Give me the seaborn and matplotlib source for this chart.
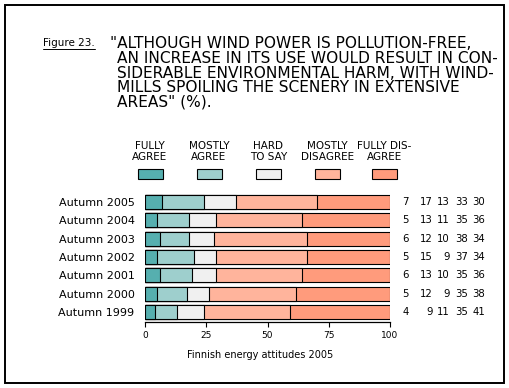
import matplotlib
matplotlib.use("Agg")
import matplotlib.pyplot as plt
import seaborn as sns
import pandas as pd
import numpy as np
from matplotlib.patches import Rectangle
from matplotlib.lines import Line2D
import matplotlib.transforms as mtransforms

# ---- data ----
years = ["Autumn 2005", "Autumn 2004", "Autumn 2003", "Autumn 2002",
         "Autumn 2001", "Autumn 2000", "Autumn 1999"]
fully_agree = [7, 5, 6, 5, 6, 5, 4]
mostly_agree = [17, 13, 12, 15, 13, 12, 9]
hard_to_say = [13, 11, 10, 9, 10, 9, 11]
mostly_disagree = [33, 35, 38, 37, 35, 35, 35]
fully_disagree = [30, 36, 34, 34, 36, 38, 41]
legend_labels = ["FULLY\nAGREE", "MOSTLY\nAGREE", "HARD\nTO SAY", "MOSTLY\nDISAGREE", "FULLY DIS-\nAGREE"]
x_ticks = [0, 25, 50, 75, 100]

colors = ["#56AFAF", "#9ECFCD", "#F0F0F0", "#FFB49C", "#FF9B7C"]

sns.set_style("white")
plt.rcParams["font.family"] = ["DejaVu Sans"]
plt.rcParams["text.color"] = "black"
plt.rcParams["axes.labelcolor"] = "black"
plt.rcParams["xtick.color"] = "black"
plt.rcParams["ytick.color"] = "black"

W, H = 509, 388
fig = plt.figure(figsize=(W / 100, H / 100), dpi=100)

def fx(px):
    return px / W

def fy(py):
    return 1 - py / H

# axes placement
ax_left, ax_right = 145, 390
ax_top, ax_bottom = 193.75, 322
ax = fig.add_axes([fx(ax_left), fy(ax_bottom), fx(ax_right - ax_left), (ax_bottom - ax_top) / H])

series = [fully_agree, mostly_agree, hard_to_say, mostly_disagree, fully_disagree]
raw = np.array(series, dtype=float)          # shape (5, n_years)
shares = raw / raw.sum(axis=0) * 100          # 100 % stacked bars
cums = np.cumsum(shares, axis=0)

# draw cumulative bars from the largest to the smallest so they stack visually
for i in range(len(series) - 1, -1, -1):
    d = pd.DataFrame({"year": years, "value": cums[i]})
    sns.barplot(data=d, x="value", y="year", order=years, orient="h",
                color=colors[i], saturation=1, width=0.76,
                edgecolor="black", linewidth=0.8, ax=ax, errorbar=None)

ax.set_xlim(0, 100)
ax.set_ylim(6.545, -0.45)
ax.set_xticks(x_ticks)
ax.set_xticklabels([str(t) for t in x_ticks], fontsize=6.5)
ax.tick_params(axis="x", length=3.5, width=0.8, pad=3, direction="out", bottom=True, colors="black")
ax.tick_params(axis="y", length=0, pad=7.5, labelsize=8, colors="black")
ax.set_ylabel("")
for side in ["top", "right", "left"]:
    ax.spines[side].set_visible(False)
ax.spines["bottom"].set_linewidth(0.9)
ax.spines["bottom"].set_color("black")
ax.set_xlabel("Finnish energy attitudes 2005", fontsize=7, color="black")
ax.xaxis.set_label_coords((260 - ax_left) / (ax_right - ax_left), -0.215)

# right-hand value columns
trans = mtransforms.blended_transform_factory(ax.transAxes, ax.transData)
col_right_px = [409, 433, 450, 468, 485]
for r, yr in enumerate(years):
    for c, s in enumerate(series):
        ax.text((col_right_px[c] - ax_left) / (ax_right - ax_left), r, str(s[r]),
                transform=trans, ha="right", va="center", fontsize=7.3,
                color="black", clip_on=False)

# legend
patch_centers = [150, 209, 268.5, 327.5, 384.5]
for c, lab in zip(range(5), legend_labels):
    cx = patch_centers[c]
    fig.patches.append(Rectangle((fx(cx - 12.5), fy(179)), fx(25), (179 - 169) / H,
                                 transform=fig.transFigure, facecolor=colors[c],
                                 edgecolor="black", linewidth=0.8))
    fig.text(fx(cx), fy(151.5), lab, ha="center", va="center", fontsize=7.5,
             linespacing=1.1, color="black")

# title
fig.text(fx(43), fy(43), "Figure 23.", ha="left", va="center", fontsize=7.5, color="black")
fig.lines.append(Line2D([fx(43), fx(95)], [fy(48.5), fy(48.5)], transform=fig.transFigure,
                        color="black", linewidth=0.7))
title_lines = ['"ALTHOUGH WIND POWER IS POLLUTION-FREE,',
               'AN INCREASE IN ITS USE WOULD RESULT IN CON-',
               'SIDERABLE ENVIRONMENTAL HARM, WITH WIND-',
               'MILLS SPOILING THE SCENERY IN EXTENSIVE',
               'AREAS" (%).']
ys = [43, 58.5, 73, 87.5, 102]
for i, (t, yy) in enumerate(zip(title_lines, ys)):
    fig.text(fx(110 if i == 0 else 117), fy(yy), t, ha="left", va="center",
             fontsize=11.1, color="black")

# frame
fig.patches.append(Rectangle((fx(5), fy(383)), fx(504 - 5), (383 - 5) / H,
                             transform=fig.transFigure, facecolor="none",
                             edgecolor="black", linewidth=1.4))

fig.savefig("out.png", dpi=100)
